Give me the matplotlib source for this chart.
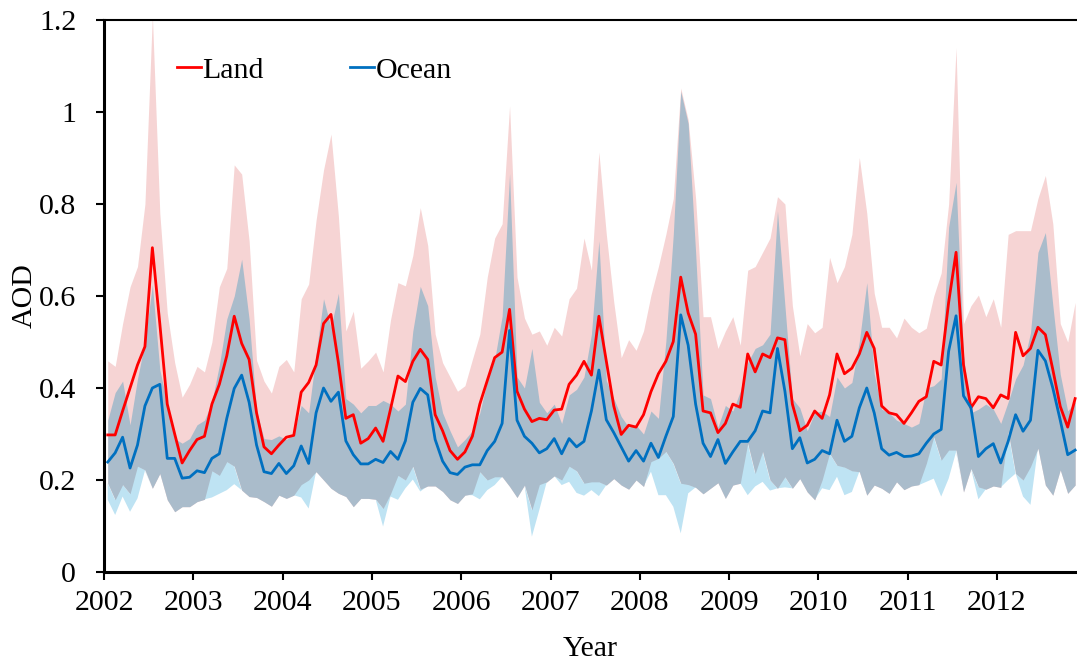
import matplotlib
matplotlib.use("Agg")
import matplotlib.pyplot as plt
import numpy as np

plt.rcParams["font.family"] = ["Liberation Serif", "DejaVu Serif"]

# monthly values, Jan 2002 .. Nov 2012
start_year = 2002

land_mean = [
    0.298, 0.298, 0.35, 0.40, 0.45, 0.49, 0.705, 0.54, 0.365, 0.30, 0.237, 0.264,
    0.288, 0.295, 0.365, 0.408, 0.47, 0.556, 0.497, 0.462, 0.346, 0.272, 0.257, 0.276,
    0.293, 0.297, 0.391, 0.412, 0.45, 0.54, 0.56, 0.455, 0.334, 0.342, 0.28, 0.290,
    0.313, 0.284, 0.354, 0.426, 0.414, 0.458, 0.484, 0.462, 0.342, 0.307, 0.264, 0.245,
    0.261, 0.295, 0.365, 0.416, 0.466, 0.478, 0.571, 0.393, 0.354, 0.327, 0.334, 0.331,
    0.352, 0.354, 0.408, 0.428, 0.458, 0.428, 0.556, 0.458, 0.361, 0.299, 0.319, 0.315,
    0.342, 0.392, 0.431, 0.458, 0.501, 0.641, 0.563, 0.517, 0.35, 0.346, 0.303, 0.323,
    0.365, 0.358, 0.474, 0.435, 0.474, 0.466, 0.509, 0.505, 0.365, 0.307, 0.319, 0.35,
    0.334, 0.385, 0.474, 0.431, 0.443, 0.474, 0.521, 0.486, 0.361, 0.346, 0.342, 0.323,
    0.346, 0.371, 0.381, 0.458, 0.45, 0.586, 0.695, 0.45, 0.357, 0.381, 0.377, 0.357,
    0.385, 0.377, 0.521, 0.47, 0.486, 0.532, 0.516, 0.44, 0.36, 0.315, 0.377,
]

ocean_mean = [
    0.239, 0.259, 0.293, 0.226, 0.276, 0.361, 0.40, 0.408, 0.247, 0.247, 0.204, 0.206,
    0.22, 0.216, 0.247, 0.257, 0.334, 0.399, 0.428, 0.369, 0.276, 0.218, 0.214, 0.236,
    0.214, 0.231, 0.274, 0.236, 0.346, 0.40, 0.371, 0.391, 0.285, 0.255, 0.235, 0.235,
    0.245, 0.238, 0.262, 0.245, 0.285, 0.369, 0.399, 0.385, 0.288, 0.241, 0.216, 0.212,
    0.228, 0.233, 0.233, 0.264, 0.284, 0.323, 0.525, 0.330, 0.295, 0.28, 0.259, 0.268,
    0.290, 0.257, 0.290, 0.272, 0.284, 0.35, 0.439, 0.331, 0.303, 0.272, 0.241, 0.264,
    0.241, 0.28, 0.249, 0.295, 0.338, 0.559, 0.493, 0.365, 0.280, 0.251, 0.288, 0.236,
    0.261, 0.284, 0.284, 0.307, 0.35, 0.346, 0.486, 0.393, 0.268, 0.292, 0.237, 0.245,
    0.264, 0.257, 0.33, 0.284, 0.295, 0.357, 0.40, 0.346, 0.268, 0.254, 0.26, 0.251,
    0.252, 0.257, 0.28, 0.30, 0.31, 0.48, 0.557, 0.383, 0.357, 0.251, 0.268, 0.279,
    0.237, 0.284, 0.342, 0.306, 0.33, 0.482, 0.459, 0.40, 0.33, 0.255, 0.265,
]

# top of the pink (land) envelope
land_upper = [
    0.459, 0.447, 0.54, 0.62, 0.664, 0.80, 1.21, 0.78, 0.563, 0.455, 0.38, 0.408,
    0.447, 0.435, 0.50, 0.62, 0.66, 0.885, 0.865, 0.72, 0.46, 0.415, 0.389, 0.447,
    0.462, 0.435, 0.594, 0.626, 0.765, 0.874, 0.952, 0.773, 0.524, 0.567, 0.443, 0.459,
    0.478, 0.435, 0.548, 0.629, 0.622, 0.688, 0.792, 0.71, 0.517, 0.455, 0.424, 0.393,
    0.405, 0.462, 0.517, 0.641, 0.726, 0.757, 1.013, 0.641, 0.552, 0.517, 0.524, 0.493,
    0.532, 0.513, 0.594, 0.617, 0.726, 0.656, 0.913, 0.734, 0.587, 0.466, 0.505, 0.482,
    0.524, 0.602, 0.664, 0.734, 0.812, 1.052, 0.983, 0.812, 0.555, 0.555, 0.486, 0.524,
    0.555, 0.493, 0.656, 0.664, 0.695, 0.726, 0.816, 0.8, 0.579, 0.47, 0.54, 0.52,
    0.532, 0.684, 0.629, 0.664, 0.734, 0.901, 0.78, 0.606, 0.532, 0.532, 0.509, 0.552,
    0.532, 0.52, 0.53, 0.60, 0.65, 0.80, 1.14, 0.54, 0.579, 0.602, 0.555, 0.594,
    0.532, 0.734, 0.742, 0.742, 0.742, 0.812, 0.862, 0.757, 0.54, 0.50, 0.586,
]

# top of the ocean envelope (grey-blue where it overlaps land)
ocean_upper = [
    0.33, 0.39, 0.415, 0.32, 0.42, 0.50, 0.625, 0.44, 0.365, 0.29, 0.28, 0.29,
    0.32, 0.33, 0.37, 0.45, 0.55, 0.60, 0.68, 0.55, 0.35, 0.29, 0.288, 0.296,
    0.288, 0.30, 0.362, 0.346, 0.474, 0.594, 0.532, 0.606, 0.377, 0.365, 0.346, 0.362,
    0.362, 0.373, 0.365, 0.350, 0.365, 0.524, 0.621, 0.579, 0.424, 0.346, 0.307, 0.272,
    0.288, 0.307, 0.346, 0.416, 0.462, 0.556, 0.866, 0.424, 0.40, 0.486, 0.369, 0.346,
    0.365, 0.323, 0.385, 0.397, 0.424, 0.517, 0.72, 0.416, 0.377, 0.338, 0.315, 0.319,
    0.30, 0.35, 0.334, 0.501, 0.734, 1.045, 0.975, 0.695, 0.385, 0.377, 0.315, 0.362,
    0.35, 0.393, 0.455, 0.486, 0.494, 0.517, 0.785, 0.579, 0.377, 0.357, 0.307, 0.346,
    0.35, 0.338, 0.424, 0.40, 0.412, 0.501, 0.629, 0.431, 0.354, 0.346, 0.33, 0.323,
    0.315, 0.323, 0.40, 0.405, 0.42, 0.75, 0.847, 0.47, 0.346, 0.354, 0.365, 0.354,
    0.323, 0.37, 0.42, 0.45, 0.52, 0.695, 0.738, 0.58, 0.43, 0.35, 0.37,
]

# bottom of the land envelope (bottom of the grey-blue overlap)
land_lower = [
    0.193, 0.157, 0.19, 0.17, 0.23, 0.222, 0.182, 0.214, 0.157, 0.131, 0.142, 0.142,
    0.153, 0.158, 0.22, 0.21, 0.24, 0.23, 0.178, 0.164, 0.162, 0.153, 0.143, 0.167,
    0.16, 0.167, 0.19, 0.20, 0.218, 0.2, 0.182, 0.171, 0.164, 0.142, 0.16, 0.16,
    0.158, 0.138, 0.17, 0.21, 0.2, 0.23, 0.18, 0.187, 0.187, 0.175, 0.157, 0.149,
    0.167, 0.17, 0.218, 0.2, 0.207, 0.207, 0.186, 0.162, 0.189, 0.135, 0.19, 0.196,
    0.209, 0.2, 0.23, 0.22, 0.193, 0.196, 0.196, 0.189, 0.203, 0.189, 0.18, 0.2,
    0.186, 0.24, 0.247, 0.262, 0.236, 0.193, 0.19, 0.184, 0.17, 0.182, 0.194, 0.16,
    0.189, 0.193, 0.28, 0.214, 0.262, 0.2, 0.182, 0.207, 0.182, 0.203, 0.174, 0.157,
    0.2, 0.258, 0.232, 0.228, 0.22, 0.218, 0.167, 0.189, 0.182, 0.171, 0.196, 0.179,
    0.187, 0.19, 0.236, 0.294, 0.243, 0.265, 0.265, 0.174, 0.225, 0.185, 0.18, 0.187,
    0.184, 0.305, 0.214, 0.2, 0.229, 0.269, 0.189, 0.167, 0.222, 0.171, 0.189,
]

# bottom of the ocean envelope (light blue below the overlap)
ocean_lower = [
    0.157, 0.124, 0.164, 0.131, 0.16, 0.22, 0.182, 0.214, 0.157, 0.131, 0.142, 0.142,
    0.153, 0.158, 0.162, 0.17, 0.178, 0.191, 0.178, 0.164, 0.162, 0.153, 0.143, 0.167,
    0.16, 0.167, 0.162, 0.138, 0.218, 0.2, 0.182, 0.171, 0.164, 0.142, 0.16, 0.16,
    0.158, 0.099, 0.164, 0.157, 0.182, 0.201, 0.175, 0.187, 0.187, 0.175, 0.157, 0.149,
    0.167, 0.167, 0.158, 0.178, 0.189, 0.207, 0.186, 0.162, 0.189, 0.077, 0.135, 0.196,
    0.209, 0.189, 0.196, 0.172, 0.166, 0.178, 0.165, 0.189, 0.203, 0.189, 0.18, 0.2,
    0.186, 0.218, 0.167, 0.167, 0.142, 0.084, 0.171, 0.184, 0.17, 0.182, 0.194, 0.16,
    0.189, 0.193, 0.167, 0.186, 0.196, 0.177, 0.182, 0.184, 0.182, 0.203, 0.174, 0.157,
    0.182, 0.178, 0.207, 0.167, 0.174, 0.218, 0.167, 0.189, 0.182, 0.171, 0.196, 0.179,
    0.187, 0.189, 0.196, 0.203, 0.164, 0.203, 0.261, 0.174, 0.225, 0.158, 0.18, 0.187,
    0.184, 0.2, 0.214, 0.164, 0.146, 0.269, 0.189, 0.167, 0.222, 0.171, 0.189,
]

year_ticks = list(range(2002, 2013))
aod_ticks = [0, 0.2, 0.4, 0.6, 0.8, 1.0, 1.2]
aod_labels = ["0", "0.2", "0.4", "0.6", "0.8", "1", "1.2"]

PINK = "#f6d4d4"
SKY = "#bee3f3"
OVERLAP = "#aabccb"
RED = "#ff0000"
BLUE = "#0070c0"
FS = 21.5


def main():
    lm, om = np.array(land_mean), np.array(ocean_mean)
    lu, ll = np.array(land_upper), np.array(land_lower)
    ou, ol = np.array(ocean_upper), np.array(ocean_lower)
    t = start_year + (np.arange(len(lm)) + 0.5) / 12.0

    fig = plt.figure(figsize=(10.77, 6.6), dpi=100)
    ax = fig.add_axes([104 / 1077, 88 / 660, 973 / 1077, 552 / 660])

    # envelopes: pink land, light-blue ocean tail, grey-blue overlap
    ax.fill_between(t, ll, lu, color=PINK, lw=0)
    ax.fill_between(t, ol, ll, where=ol < ll, interpolate=True, color=SKY, lw=0)
    ax.fill_between(t, ll, ou, where=ou > ll, interpolate=True, color=OVERLAP, lw=0)

    ax.plot(t, lm, color=RED, lw=2.0, label="Land")
    ax.plot(t, om, color=BLUE, lw=2.0, label="Ocean")

    ax.set_xlim(2002, 2002 + 973 / 89.3)
    ax.set_ylim(0, 1.2)
    ax.set_xticks(year_ticks)
    ax.set_xticklabels([str(y) for y in year_ticks])
    ax.set_yticks(aod_ticks)
    ax.set_yticklabels(aod_labels)
    ax.tick_params(axis="both", direction="out", length=6, width=1.5, labelsize=FS)
    ax.tick_params(axis="y", pad=14)
    ax.tick_params(axis="x", pad=7)

    for side in ("left", "bottom"):
        ax.spines[side].set_linewidth(2.2)
    ax.spines["top"].set_linewidth(1.5)
    ax.spines["right"].set_visible(False)

    ax.set_xlabel("Year", fontsize=FS, labelpad=14)
    ax.set_ylabel("AOD", fontsize=FS, labelpad=1)

    ax.legend(loc="center left", bbox_to_anchor=(0.075, 0.909), ncol=2, frameon=False,
              fontsize=FS, handlelength=0.8, handletextpad=0.05, columnspacing=2.9,
              borderpad=0, borderaxespad=0)

    fig.savefig("out.png", dpi=100)


if __name__ == "__main__":
    main()
